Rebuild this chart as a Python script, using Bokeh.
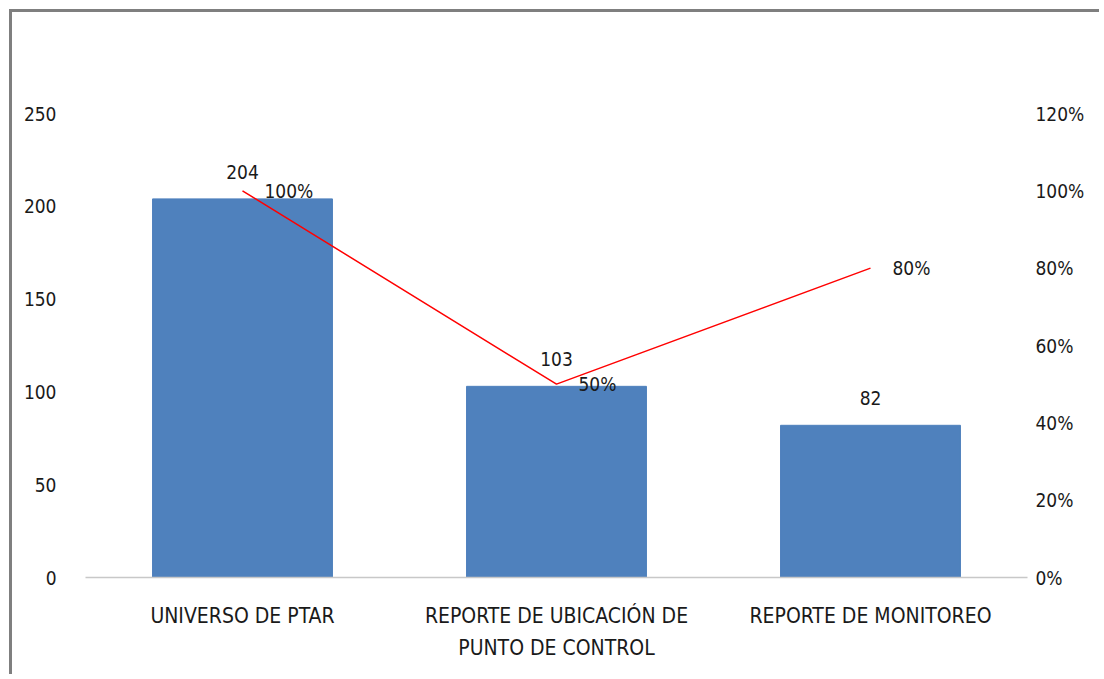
from bokeh.plotting import figure
from bokeh.models import Range1d, LinearAxis, FixedTicker, ColumnDataSource, LabelSet
from bokeh.core.properties import value
from bokeh.embed import file_html
from bokeh.resources import INLINE

categories = ["UNIVERSO DE PTAR", "REPORTE DE UBICACIÓN DE\nPUNTO DE CONTROL", "REPORTE DE MONITOREO"]
counts = [204, 103, 82]
percents = [1.00, 0.50, 0.80]
count_labels = ["204", "103", "82"]
pct_labels = ["100%", "50%", "80%"]
left_ticks = [0, 50, 100, 150, 200, 250]
right_ticks = [0.0, 0.2, 0.4, 0.6, 0.8, 1.0, 1.2]
right_tick_labels = ["0%", "20%", "40%", "60%", "80%", "100%", "120%"]

FONT = "DejaVu Sans Condensed"
FS = "19px"
TXT = "#1a1a1a"

xpos = [i + 0.5 for i in range(len(categories))]
src = ColumnDataSource(dict(x=xpos, counts=counts, pct=percents,
                            clab=count_labels, plab=pct_labels))

p = figure(width=1090, height=665, output_backend="svg", toolbar_location=None,
           x_range=Range1d(0, len(categories)), y_range=Range1d(0, 250),
           min_border_left=73, min_border_right=75, min_border_top=101, min_border_bottom=100)
p.styles = {"margin-left": "9px", "margin-top": "9px",
            "border-left": "3px solid #7f7f7f", "border-top": "3px solid #7f7f7f"}
p.extra_y_ranges = {"pct": Range1d(0, 1.2)}
p.outline_line_color = None
p.background_fill_color = "white"
p.border_fill_color = "white"
p.grid.visible = False

p.vbar(x="x", top="counts", width=0.573, source=src, color="#4F81BD")
p.line(x="x", y="pct", source=src, y_range_name="pct", line_color="#FF0000", line_width=1.5)

# x axis
xa = p.xaxis[0]
xa.ticker = FixedTicker(ticks=xpos)
xa.major_label_overrides = {x: c for x, c in zip(xpos, categories)}
xa.axis_line_color = "#c8c8c8"
xa.axis_line_width = 1.5
xa.major_tick_line_color = None
xa.minor_tick_line_color = None
xa.major_label_standoff = 20
xa.major_label_text_font = FONT
xa.major_label_text_font_size = "21px"
xa.major_label_text_line_height = 1.35
xa.major_label_text_color = TXT

# left axis
ya = p.yaxis[0]
ya.ticker = FixedTicker(ticks=left_ticks)
ya.axis_line_color = None
ya.major_tick_line_color = None
ya.minor_tick_line_color = None
ya.major_label_standoff = 23
ya.major_label_text_font = FONT
ya.major_label_text_font_size = FS
ya.major_label_text_color = TXT

# right axis
ra = LinearAxis(y_range_name="pct", ticker=FixedTicker(ticks=right_ticks))
ra.major_label_overrides = {t: l for t, l in zip(right_ticks, right_tick_labels)}
ra.axis_line_color = None
ra.major_tick_line_color = None
ra.minor_tick_line_color = None
ra.major_label_standoff = 2
ra.major_label_text_font = FONT
ra.major_label_text_font_size = FS
ra.major_label_text_color = TXT
p.add_layout(ra, "right")

p.add_layout(LabelSet(x="x", y="counts", text="clab", source=src, y_offset=20,
                      text_align="center", text_baseline="bottom",
                      text_font=value(FONT), text_font_size=value(FS), text_color=TXT))
p.add_layout(LabelSet(x="x", y="pct", text="plab", source=src, y_range_name="pct",
                      x_offset=22, text_align="left", text_baseline="middle",
                      text_font=value(FONT), text_font_size=value(FS), text_color=TXT))

open("out.html", "w").write(file_html(p, INLINE))
